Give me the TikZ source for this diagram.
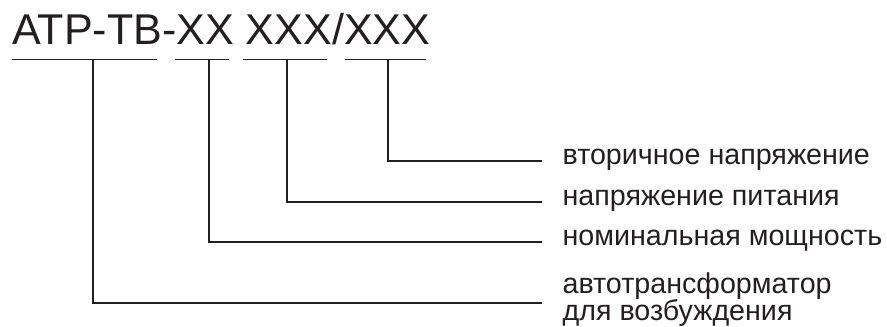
\documentclass[tikz,border=0pt]{standalone}
\usepackage{fontspec}
\setmainfont{Liberation Sans}
\usepackage{xcolor}
\definecolor{ink}{RGB}{35,31,32}

\begin{document}
\begin{tikzpicture}[x=.75pt, y=.75pt, line width=1.4pt, draw=ink, text=ink,
    code/.style={anchor=base west, inner sep=0pt, font=\fontsize{32.3}{36}\selectfont},
    lbl/.style={anchor=west, inner xsep=15pt, inner ysep=0pt, text height=1.5ex, text depth=.5ex,
                font=\fontsize{21.5}{21}\selectfont},
    lbltwo/.style={anchor=west, inner xsep=15pt, inner ysep=0pt, align=left,
                font=\fontsize{21.5}{20.3}\selectfont}]
  \useasboundingbox (0, 0) rectangle (887, 327);

  \node[code]   (title) at (11.5, 282)  {АТР-ТВ-XX XXX/XXX};

  \coordinate (a1) at (11.7, 267.5);  \coordinate (a2) at (157.3, 267.5);  \coordinate (at) at (93.3, 267.5);
  \coordinate (b1) at (175, 267.5);   \coordinate (b2) at (229, 267.5);    \coordinate (bt) at (209, 267.5);
  \coordinate (c1) at (242.7, 267.5); \coordinate (c2) at (327.3, 267.5);  \coordinate (ct) at (287.3, 267.5);
  \coordinate (d1) at (345, 267.5);   \coordinate (d2) at (426, 267.5);    \coordinate (dt) at (388.3, 267.5);

  \node[lbl]    (sec)  at (541.7, 166.3) {вторичное напряжение};
  \node[lbl]    (sup)  at (541.7, 125.3) {напряжение питания};
  \node[lbl]    (pow)  at (541.7, 85.3)  {номинальная мощность};
  \node[lbltwo] (kind) at (541.7, 27.2)  {автотрансформатор\\для возбуждения};

  \draw (a1) -- (a2);
  \draw (b1) -- (b2);
  \draw (c1) -- (c2);
  \draw (d1) -- (d2);

  \draw (dt) |- (sec.west);
  \draw (ct) |- (sup.west);
  \draw (bt) |- (pow.west);
  \draw (at) |- ([yshift=-2.6pt]kind.west);
\end{tikzpicture}
\end{document}
